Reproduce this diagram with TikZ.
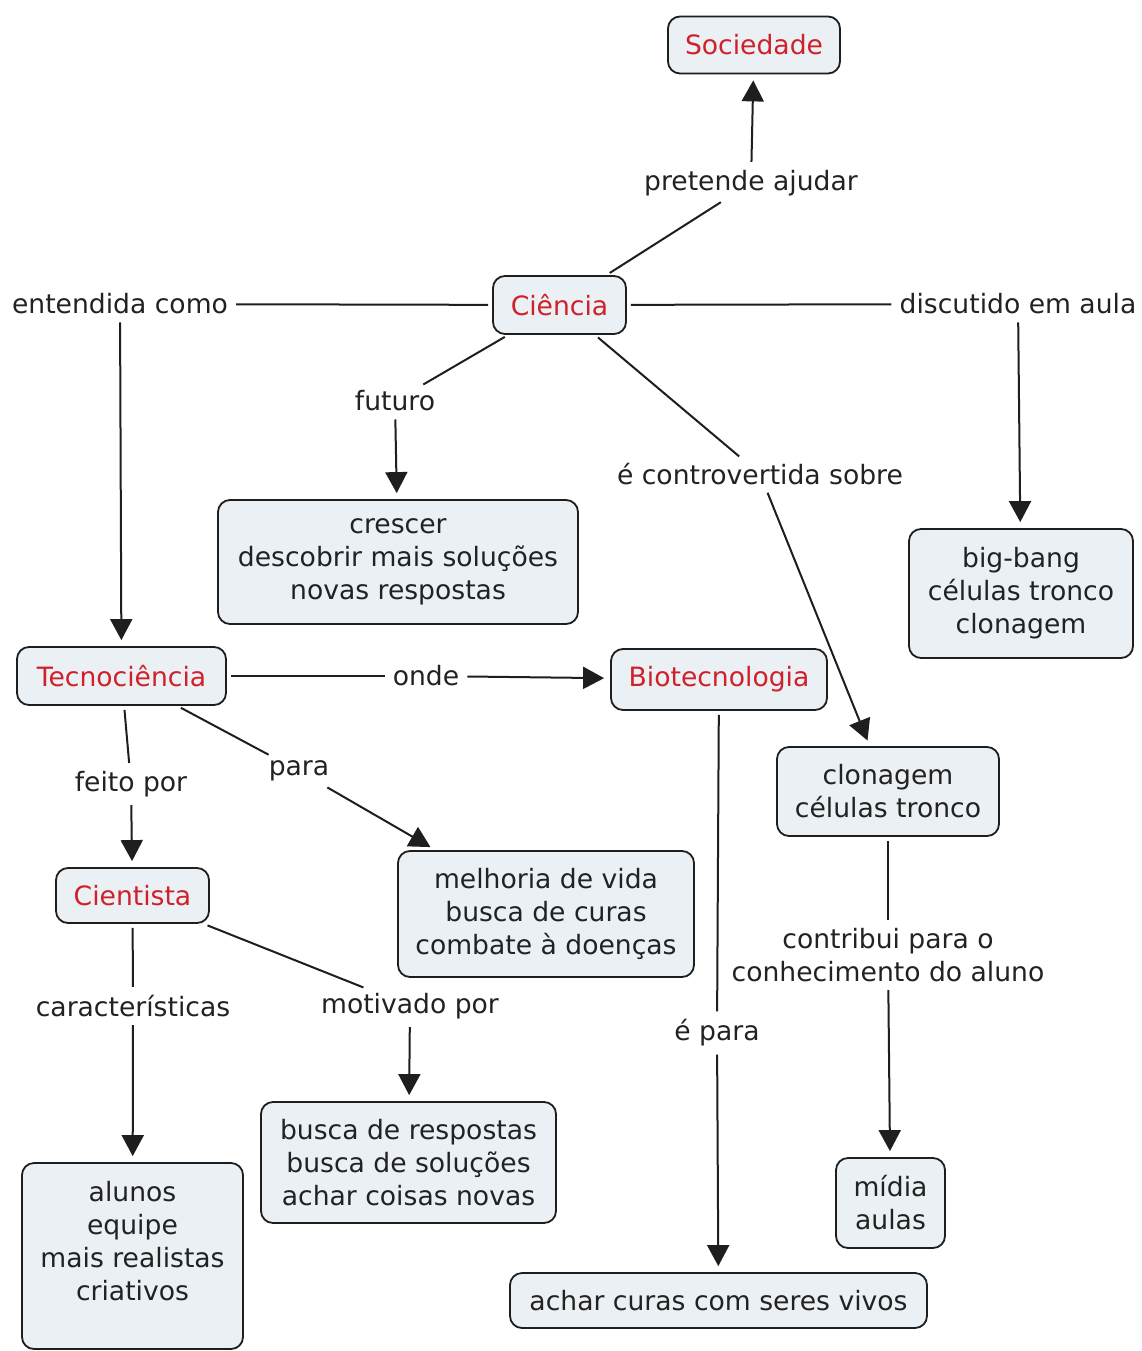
\documentclass[tikz,border=0pt]{standalone}
\usepackage{fontspec}
\setmainfont{DejaVu Sans}
\usetikzlibrary{arrows.meta}
\definecolor{boxfill}{HTML}{EAF0F4}
\definecolor{conc}{HTML}{D0202A}
\definecolor{edgec}{HTML}{1E1E1E}
\definecolor{txt}{HTML}{222222}
\begin{document}
\begin{tikzpicture}[x=1pt,y=-1pt,
  every node/.style={font=\fontsize{26.6}{33}\selectfont, text=txt},
  box/.style={draw=edgec, line width=1.8pt, fill=boxfill, rounded corners=12pt, align=center, inner sep=0pt},
  red/.style={text=conc},
  lbl/.style={inner sep=4pt, align=center},
  conn/.style={draw=edgec, line width=2pt, shorten <=4pt, shorten >=4pt},
  arr/.style={conn, -{Triangle[length=21pt,width=22pt]}, shorten >=6pt}
]
\fill[white] (0,0) rectangle (1141,1351);
\useasboundingbox (0,0) rectangle (1141,1351);

% concepts
\node[box, red, minimum width=172, minimum height=57] (soc) at (754,45) {Sociedade};
\node[box, red, minimum width=133, minimum height=58] (cien) at (559.5,305) {Ciência};
\node[box, minimum width=360, minimum height=124] (cres) at (398,562) {crescer\\descobrir mais soluções\\novas respostas};
\node[box, minimum width=224, minimum height=129] (bigb) at (1021,593.5) {big-bang\\células tronco\\clonagem};
\node[box, red, minimum width=209, minimum height=58] (tec) at (121.5,676) {Tecnociência};
\node[box, red, minimum width=216, minimum height=61] (bio) at (719,679.5) {Biotecnologia};
\node[box, minimum width=222, minimum height=89] (clon) at (888,791.5) {clonagem\\células tronco};
\node[box, minimum width=296, minimum height=126] (melh) at (546,914) {melhoria de vida\\busca de curas\\combate à doenças};
\node[box, red, minimum width=153, minimum height=55] (cient) at (132.5,895.5) {Cientista};
\node[box, minimum width=221, minimum height=186] (alu) at (132.5,1256) {};
\node[align=center] (alutxt) at (132.5,1241) {alunos\\equipe\\mais realistas\\criativos};
\node[box, minimum width=295, minimum height=121] (busca) at (408.5,1162.5) {busca de respostas\\busca de soluções\\achar coisas novas};
\node[box, minimum width=417, minimum height=55] (achar) at (718.5,1300.5) {achar curas com seres vivos};
\node[box, minimum width=109, minimum height=90] (midia) at (890.5,1203) {mídia\\aulas};

% linking phrases
\node[lbl] (pret) at (751,183) {pretende ajudar};
\node[lbl] (ent) at (120,304) {entendida como};
\node[lbl] (disc) at (1018,304) {discutido em aula};
\node[lbl] (fut) at (395,401) {futuro};
\node[lbl] (contr) at (760,474) {é controvertida sobre};
\node[lbl] (onde) at (426,676) {onde};
\node[lbl] (feito) at (131,784) {feito por};
\node[lbl] (para) at (299,771) {para};
\node[lbl] (carac) at (133,1006) {características};
\node[lbl] (motiv) at (410,1006) {motivado por};
\node[lbl] (epara) at (717,1033) {é para};
\node[lbl] (contrib) at (888,955) {contribui para o\\conhecimento do aluno};

% connectors
\draw[conn] (cien) -- (pret);  \draw[arr] (pret) -- (soc);
\draw[conn] (cien) -- (ent);   \draw[arr] (ent) -- (tec);
\draw[conn] (cien) -- (disc);  \draw[arr] (disc) -- (bigb);
\draw[conn] (cien) -- (fut);   \draw[arr] (fut) -- (cres);
\draw[conn] (cien) -- (contr); \draw[arr] (contr) -- (clon);
\draw[conn] (tec) -- (onde);   \draw[arr] (onde) -- (bio);
\draw[conn] (tec) -- (feito);  \draw[arr] (feito) -- (cient);
\draw[conn] (tec) -- (para);   \draw[arr] (para) -- (melh);
\draw[conn] (cient) -- (carac); \draw[arr] (carac) -- (alu);
\draw[conn] (cient) -- (motiv); \draw[arr] (motiv) -- (busca);
\draw[conn] (bio) -- (epara);  \draw[arr] (epara) -- (achar);
\draw[conn] (clon) -- (contrib); \draw[arr] (contrib) -- (midia);
\end{tikzpicture}
\end{document}
